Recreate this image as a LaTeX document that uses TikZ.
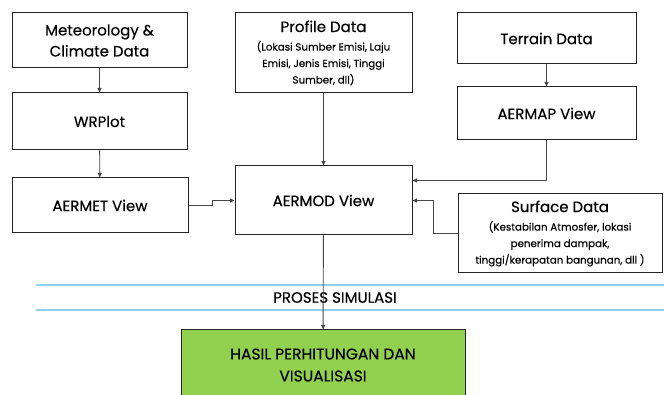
\documentclass[tikz,border=0pt]{standalone}
\usepackage{fontspec}
\setmainfont{Poppins}[FakeBold=0.35]
\usetikzlibrary{arrows.meta}
\definecolor{boxline}{RGB}{35,35,35}
\definecolor{wireline}{RGB}{70,70,70}
\definecolor{simblue}{RGB}{142,210,242}
\definecolor{hasilgreen}{RGB}{146,208,80}
\newcommand{\titlesize}{\fontsize{15}{21}\selectfont}
\newcommand{\notesize}{\fontsize{10.3}{16.5}\selectfont}
\newcommand{\hasilsize}{\fontsize{15.5}{22}\selectfont}
\tikzset{
    box/.style={
        draw=boxline, line width=1pt, align=center, inner sep=0pt,
        font=\titlesize
    },
    notebox/.style={box, font=\notesize},
    wire/.style={
        draw=wireline, line width=0.9pt,
        -{Triangle[length=4.5pt,width=4pt]}
    },
    simline/.style={draw=simblue, line width=1.6pt}
}
\newcommand{\flowbox}[7] {
	\node[#6, minimum width=#4pt, minimum height=#5pt] (#1) at (#2,#3) {#7};
}

\begin{document}
\begin{tikzpicture}[x=1pt, y=-1pt]
		\useasboundingbox (0,0) rectangle (664,395);

		% Left column
		\flowbox{met}{99.5}{40.5}{175}{55}{box}{Meteorology \&\\Climate Data}
		\flowbox{wrplot}{99.5}{121.5}{175}{57}{box}{WRPlot}
		\flowbox{aermet}{100}{205.5}{176}{55}{box}{AERMET View}

		% Middle column
		\flowbox{profile}{323.5}{53}{177}{80}{notebox}{{\titlesize Profile Data}\\[2pt](Lokasi Sumber Emisi, Laju\\Emisi, Jenis Emisi, Tinggi\\Sumber, dll)}
		\flowbox{aermod}{323.5}{200.5}{177}{69}{box}{AERMOD View}

		% Right column
		\flowbox{terrain}{546.5}{38.5}{179}{51}{box}{Terrain Data}
		\flowbox{aermap}{546.5}{113.5}{179}{53}{box}{AERMAP View}
		\flowbox{surface}{560}{233.5}{204}{79}{notebox}{{\titlesize Surface Data}\\[2pt](Kestabilan Atmosfer, lokasi\\penerima dampak,\\tinggi/kerapatan bangunan, dll )}

		% Simulation band
		\draw[simline] (36,285) -- (664,285);
		\draw[simline] (36,310) -- (664,310);
		\node[font=\titlesize] (sim) at (335,297.5) {PROSES SIMULASI};

		% Result
		\flowbox{hasil}{323}{365}{284}{70}{box, fill=hasilgreen, font=\hasilsize}{HASIL PERHITUNGAN DAN\\VISUALISASI}

		% Connectors
		\draw[wire] (met) -- (wrplot);
		\draw[wire] (wrplot) -- (aermet);
		\draw[wire] (aermet.east) -- ++(24,0) |- (aermod.west);
		\draw[wire] (profile) -- (aermod);
		\draw[wire] (terrain) -- (aermap);
		\draw[wire] (aermap.south) |- ([yshift=20pt]aermod.east);
		\draw[wire] (surface.west) -- ++(-24,0) |- (aermod.east);
		\draw[wire] (aermod) -- (hasil);

	\end{tikzpicture}
\end{document}
